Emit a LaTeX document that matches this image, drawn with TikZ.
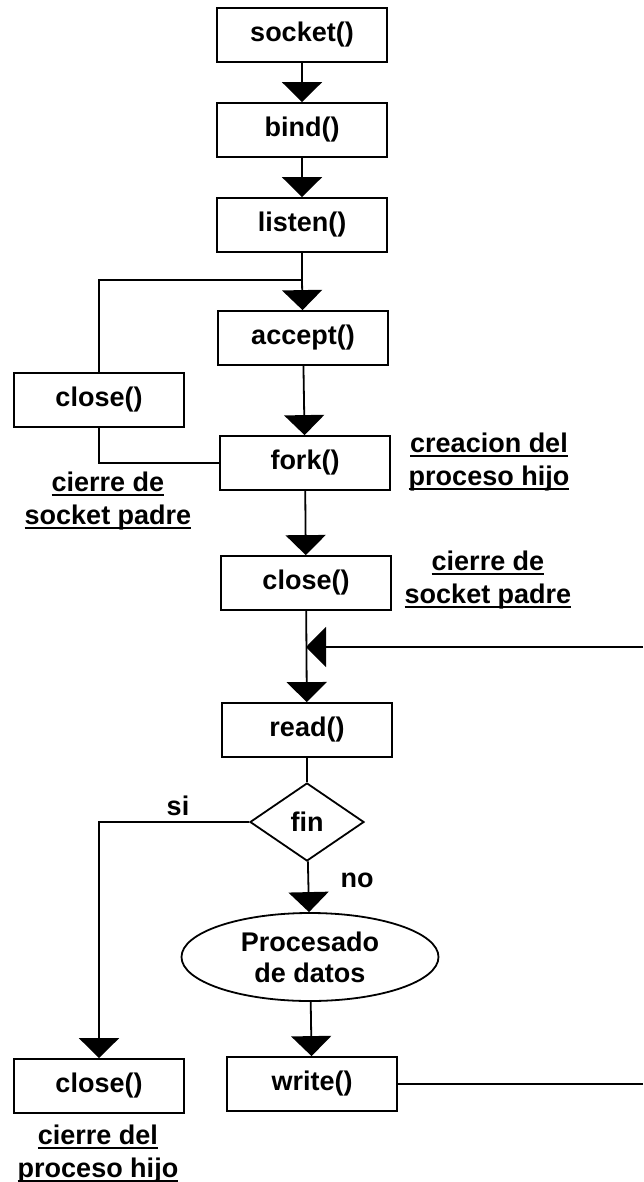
\documentclass[tikz,border=0pt]{standalone}
\usepackage{fontspec}
\setmainfont{Liberation Sans}
\usetikzlibrary{arrows.meta,shapes.geometric}

% underlined word with a thick rule, one per line of a caption
\newcommand\ulword[1]{\setbox0\hbox{#1}\leavevmode\rlap{\rule[-5pt]{\wd0}{2pt}}\box0}

\begin{document}
\begin{tikzpicture}[x=1pt,y=-1pt,
  every node/.style={font=\fontsize{27}{33}\selectfont\bfseries},
  box/.style={draw, line width=1.8pt, minimum width=170pt, minimum height=54pt, inner sep=0pt},
  flow/.style={line width=1.8pt},
  tip/.style={-{Triangle[width=40pt,length=20pt]}},
  note/.style={align=center, inner sep=0pt}
]
\useasboundingbox (0,0) rectangle (643,1182);

% main column of calls
\node[box] (socket) at (302,35)  {socket()};
\node[box] (bind)   at (302,130) {bind()};
\node[box] (listen) at (302,225) {listen()};
\node[box] (accept) at (303,338) {accept()};
\node[box] (closeL) at (99,400)  {close()};
\node[box] (fork)   at (305,463) {fork()};
\node[box] (closeM) at (306,583) {close()};
\node[box] (read)   at (307,730) {read()};
\node[draw, diamond, line width=1.8pt, minimum width=114pt, minimum height=78pt, inner sep=0pt] (fin) at (307,822) {fin};
\node[draw, ellipse, line width=1.8pt, minimum width=257pt, minimum height=88pt, inner sep=0pt, align=center,
      font=\fontsize{27}{31}\selectfont\bfseries] (proc) at (310,957) {Procesado\\de datos};
\node[box] (write)  at (312,1084) {write()};
\node[box] (closeB) at (99,1086) {close()};

% captions
\node[note] (capFork) at (489,462) {\ulword{creacion del}\\\ulword{proceso hijo}};
\node[note] (capL)    at (108,501) {\ulword{cierre de}\\\ulword{socket padre}};
\node[note] (capM)    at (488,580) {\ulword{cierre de}\\\ulword{socket padre}};
\node[note] (capB)    at (98,1154) {\ulword{cierre del}\\\ulword{proceso hijo}};
\node[note] (si) at (178,806) {si};
\node[note] (no) at (357,880) {no};

% connectors
\coordinate (jn) at (302,280);
\coordinate (merge) at (306,647);
\coordinate (backIn) at (643,647);
\coordinate (backOut) at (643,1084);

\draw[flow,tip] (socket) -- (bind);
\draw[flow,tip] (bind) -- (listen);
\draw[flow] (listen) -- (jn);
\draw[flow,tip] (jn) -- (accept);
\draw[flow] (jn) -| (closeL.north);
\draw[flow] (closeL.south) |- (fork.west);
\draw[flow,tip] (accept) -- (fork);
\draw[flow,tip] (fork) -- (closeM);
\draw[flow,tip] (closeM) -- (read);
\draw[flow,tip] (backIn) -- (merge);
\draw[flow] (read) -- (fin);
\draw[flow,tip] (fin.west) -| (closeB.north);
\draw[flow,tip] (fin) -- (proc);
\draw[flow,tip] (proc) -- (write);
\draw[flow] (write) -- (backOut);
\end{tikzpicture}
\end{document}
